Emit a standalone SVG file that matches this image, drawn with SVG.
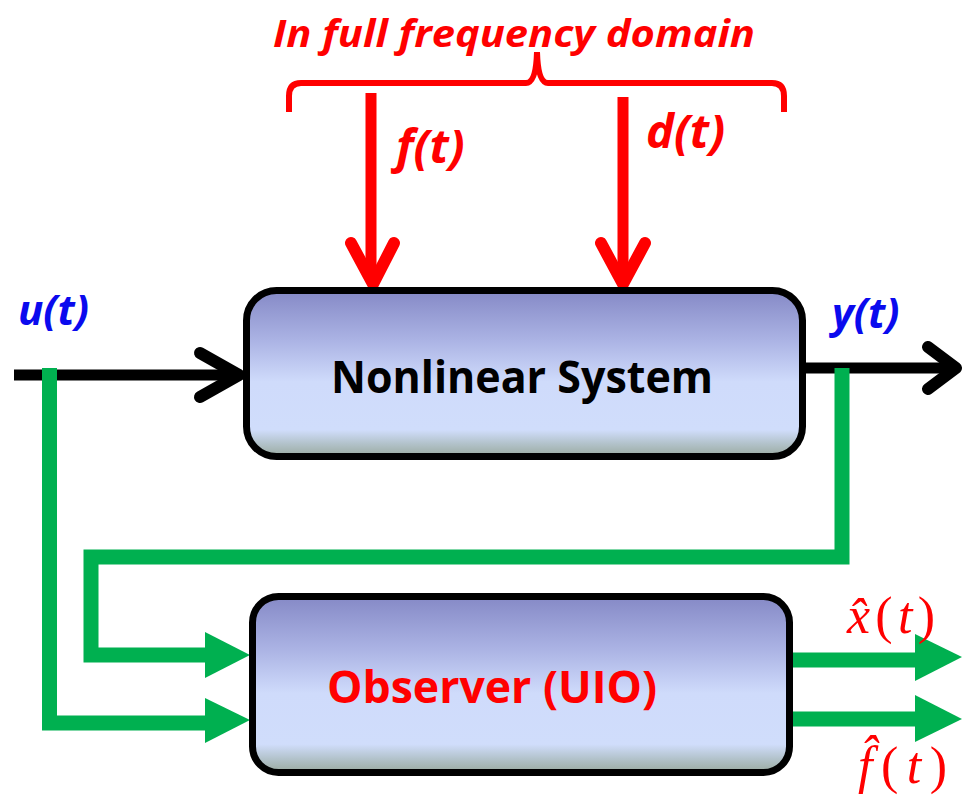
<svg xmlns="http://www.w3.org/2000/svg" width="962" height="797" viewBox="0 0 962 797">
<defs>
<linearGradient id="boxfill" x1="0" y1="0" x2="0" y2="1">
<stop offset="0" stop-color="#8589c6"/>
<stop offset="0.3" stop-color="#abb3e4"/>
<stop offset="0.55" stop-color="#cfdbfb"/>
<stop offset="0.84" stop-color="#d0ddfb"/>
<stop offset="0.92" stop-color="#b3c3cc"/>
<stop offset="1" stop-color="#9aaa9f"/>
</linearGradient>
<style>
.box{fill:url(#boxfill);stroke:#000;stroke-width:7}
.lbl{font-family:"Open Sans","Liberation Sans",sans-serif;font-weight:bold}
.it{font-style:italic}
.red{fill:#ff0000}
.blue{fill:#0a0aee}
.math{font-family:"Liberation Serif","DejaVu Serif",serif;fill:#ff0000;font-size:52px}
.g{fill:none;stroke:#00b050;stroke-width:15;stroke-linejoin:miter}
.gh{fill:#00b050}
.blk{fill:none;stroke:#000;stroke-width:11}
.chev{fill:none;stroke-width:12;stroke-linecap:round;stroke-linejoin:round}
.redl{fill:none;stroke:#ff0000}
</style>
</defs>

<g id="brace-label">
<path class="redl" stroke-width="6" d="M 289 112 V 96 Q 289 83 301 83 H 526 Q 536 83 537 52 Q 538 83 548 83 H 772 Q 784 83 784 96 V 112"/>
<text class="lbl it red" x="273" y="47" font-size="38" textLength="482" lengthAdjust="spacingAndGlyphs">In full frequency domain</text>
</g>

<g id="connectors">
<!-- f(t) -->
<path class="redl" stroke-width="11" d="M 371 93 V 282"/>
<path class="chev" stroke="#ff0000" d="M 351 243 L 373 284 L 394 243"/>
<!-- d(t) -->
<path class="redl" stroke-width="11" d="M 623 97 V 282"/>
<path class="chev" stroke="#ff0000" d="M 601 243 L 623 284 L 645 243"/>
<!-- u(t) input -->
<path class="blk" d="M 14 375 H 238"/>
<path class="chev" stroke="#000" d="M 200 353 L 239 375 L 200 397"/>
<!-- y(t) output -->
<path class="blk" d="M 806 368 H 955"/>
<path class="chev" stroke="#000" d="M 928 347 L 956 368 L 928 389"/>
<!-- green feedbacks -->
<path class="g" d="M 49.5 368 V 723 H 210"/>
<polygon class="gh" points="205,698 250,720 205,743"/>
<path class="g" d="M 842 368 V 557 H 91 V 655 H 210"/>
<polygon class="gh" points="205,632 250,655 205,678"/>
<path class="g" d="M 793 660 H 918"/>
<polygon class="gh" points="915,634 962,657 915,681"/>
<path class="g" d="M 793 719 H 918"/>
<polygon class="gh" points="915,695 962,719 915,742"/>
</g>

<g id="labels">
<text class="lbl it red" x="396" y="163" font-size="47">f(t)</text>
<text class="lbl it red" x="646" y="148" font-size="47">d(t)</text>
<text class="lbl it blue" x="18" y="325" font-size="42">u(t)</text>
<text class="lbl it blue" x="832" y="328" font-size="42">y(t)</text>
<text class="math" x="847" y="633" textLength="88" lengthAdjust="spacing"><tspan font-style="italic">x̂</tspan><tspan>(</tspan><tspan font-style="italic">t</tspan><tspan>)</tspan></text>
<text class="math" x="858" y="783" textLength="89" lengthAdjust="spacing"><tspan font-style="italic">f̂</tspan><tspan>(</tspan><tspan font-style="italic">t</tspan><tspan>)</tspan></text>
</g>

<g id="nonlinear-system">
<rect class="box" x="246.5" y="290.5" width="556" height="166" rx="30"/>
<text class="lbl" x="331" y="393" font-size="45" textLength="382" lengthAdjust="spacingAndGlyphs">Nonlinear System</text>
</g>

<g id="observer">
<rect class="box" x="252.5" y="596.5" width="537" height="176" rx="26"/>
<text class="lbl red" x="327" y="703" font-size="45" textLength="330" lengthAdjust="spacingAndGlyphs">Observer (UIO)</text>
</g>
</svg>
